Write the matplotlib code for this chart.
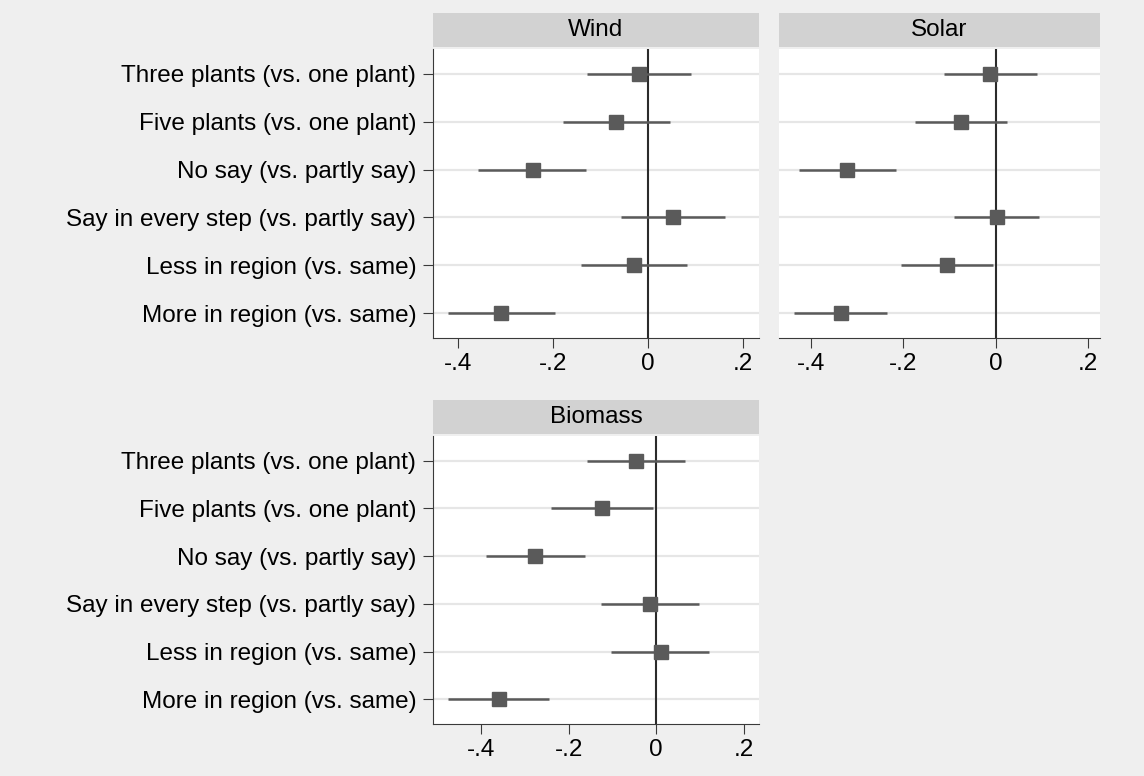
import matplotlib.pyplot as plt
from matplotlib.patches import Rectangle

plt.rcParams['font.family'] = ['Liberation Sans', 'DejaVu Sans']

labels = ['Three plants (vs. one plant)', 'Five plants (vs. one plant)',
          'No say (vs. partly say)', 'Say in every step (vs. partly say)',
          'Less in region (vs. same)', 'More in region (vs. same)']

# point estimates and confidence bounds
wind_est = [-0.020, -0.067, -0.243, 0.051, -0.029, -0.310]
wind_lo = [-0.128, -0.180, -0.359, -0.057, -0.142, -0.421]
wind_hi = [0.089, 0.046, -0.130, 0.161, 0.082, -0.196]

solar_est = [-0.012, -0.076, -0.321, 0.003, -0.105, -0.335]
solar_lo = [-0.111, -0.175, -0.425, -0.090, -0.205, -0.437]
solar_hi = [0.089, 0.024, -0.215, 0.095, -0.005, -0.235]

bio_est = [-0.046, -0.124, -0.277, -0.014, 0.011, -0.359]
bio_lo = [-0.157, -0.240, -0.390, -0.126, -0.103, -0.475]
bio_hi = [0.067, -0.008, -0.163, 0.099, 0.120, -0.246]

xticks = [-0.4, -0.2, 0, 0.2]
xticklabels = ['-.4', '-.2', '0', '.2']

W, H = 1144, 776
fig = plt.figure(figsize=(W / 100, H / 100), dpi=100)
fig.patch.set_facecolor('#efefef')

fs = 17.5
grey = '#5a5a5a'


def panel(rect, title, est, lo, hi, xlim, show_labels):
    ax = fig.add_axes(rect)
    ax.set_facecolor('white')
    ypos = list(range(len(labels), 0, -1))
    for y in ypos:
        ax.axhline(y, color='#e6e6e6', lw=1.6, zorder=1)
    ax.axvline(0, color='#2b2b2b', lw=1.5, zorder=2)
    ax.hlines(ypos, lo, hi, color=grey, lw=1.8, zorder=3)
    ax.plot(est, ypos, 's', color=grey, markersize=9.5, zorder=4)
    ax.set_xlim(xlim)
    ax.set_ylim(0.48, 6.52)
    ax.set_xticks(xticks)
    ax.set_xticklabels(xticklabels, fontsize=fs)
    ax.set_yticks(ypos)
    for s in ['top', 'right']:
        ax.spines[s].set_visible(False)
    ax.spines['bottom'].set_color('#3a3a3a')
    ax.spines['left'].set_color('#3a3a3a')
    ax.tick_params(axis='x', length=7, color='#3a3a3a', pad=4)
    if show_labels:
        ax.set_yticklabels(labels, fontsize=fs)
        ax.tick_params(axis='y', length=7, color='#3a3a3a', pad=5)
    else:
        ax.set_yticklabels([])
        ax.tick_params(axis='y', length=0)
        ax.spines['left'].set_visible(False)
    # title strip
    strip_h = 34 / (rect[3] * H)
    ax.add_patch(Rectangle((0, 1 + 2 / (rect[3] * H)), 1, strip_h,
                           transform=ax.transAxes, facecolor='#d2d2d2',
                           edgecolor='none', clip_on=False))
    ax.text(0.5, 1 + 2 / (rect[3] * H) + strip_h / 2, title,
            transform=ax.transAxes, ha='center', va='center', fontsize=fs)
    return ax


panel([433 / W, 1 - 338 / H, 326 / W, 289 / H], 'Wind',
      wind_est, wind_lo, wind_hi, (-0.453, 0.233), True)
panel([779 / W, 1 - 338 / H, 321 / W, 289 / H], 'Solar',
      solar_est, solar_lo, solar_hi, (-0.469, 0.226), False)
panel([433 / W, 1 - 724 / H, 326 / W, 288 / H], 'Biomass',
      bio_est, bio_lo, bio_hi, (-0.51, 0.235), True)

fig.savefig('out.png', dpi=100, facecolor=fig.get_facecolor())
